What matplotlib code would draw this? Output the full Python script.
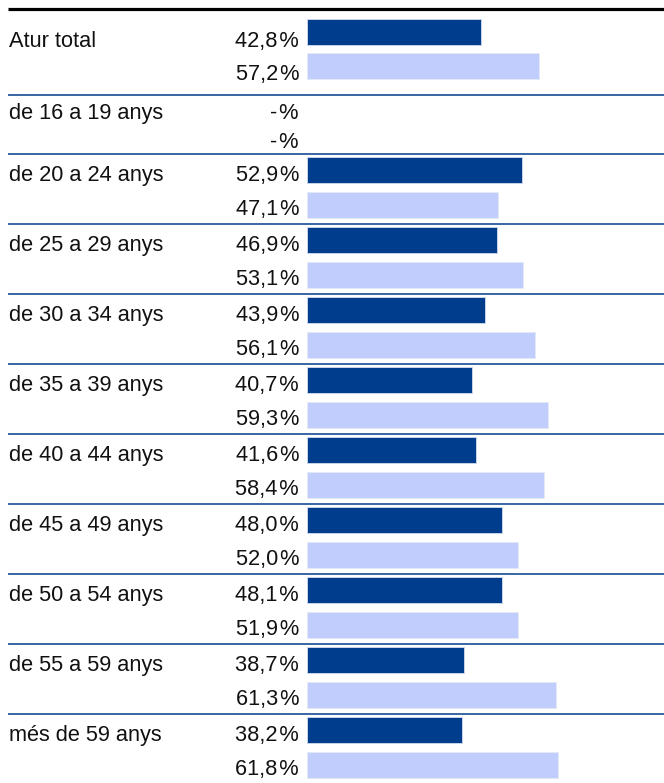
import matplotlib
matplotlib.use("Agg")
import matplotlib.pyplot as plt

# dades: atur per sexe i grup d'edat (%)
grups = ['Atur total', 'de 16 a 19 anys', 'de 20 a 24 anys', 'de 25 a 29 anys',
         'de 30 a 34 anys', 'de 35 a 39 anys', 'de 40 a 44 anys', 'de 45 a 49 anys',
         'de 50 a 54 anys', 'de 55 a 59 anys', 'més de 59 anys']
homes = [42.8, None, 52.9, 46.9, 43.9, 40.7, 41.6, 48.0, 48.1, 38.7, 38.2]
dones = [57.2, None, 47.1, 53.1, 56.1, 59.3, 58.4, 52.0, 51.9, 61.3, 61.8]

C_FOSC = '#003d8c'
C_CLAR = '#c1cefd'

plt.rcParams['font.family'] = ['Liberation Sans', 'DejaVu Sans']

W, H = 664, 783
fig = plt.figure(figsize=(W / 100, H / 100), dpi=100)
ax = fig.add_axes([0, 0, 1, 1])

# escala: 0% a x=307 px, 4.06 px per punt percentual
x0_px, px_per = 307, 4.06
ax.set_xlim(-x0_px / px_per, (W - x0_px) / px_per)
ax.set_ylim(H, 0)
ax.axis('off')

def fmt(v):
    return '-\u200a%' if v is None else f"{v:.1f}".replace('.', ',') + '\u200a%'

x_left = (8 - x0_px) / px_per
x_lab = (9 - x0_px) / px_per
x_pct = (299 - x0_px) / px_per
FS = 15.7

# línia superior
top = 9
ax.plot([x_left, ax.get_xlim()[1]], [top, top], color='black', lw=2.3, solid_capstyle='butt')

y = top
for i, g in enumerate(grups):
    te_dades = homes[i] is not None
    if i == 0:
        alt, bar_top, base = 86, 10, (38, 71)
    elif te_dades:
        alt, bar_top, base = 70, 3, (27.5, 61)
    else:
        alt, bar_top, base = 59, 3, (24, 53)

    if te_dades:
        b1 = y + bar_top
        b2 = b1 + 35 if i > 0 else b1 + 34
        ax.barh(b1, homes[i], height=25.5, left=0, align='edge', color=C_FOSC,
                edgecolor='#c9d3ea', linewidth=0.7)
        ax.barh(b2, dones[i], height=25.5, left=0, align='edge', color=C_CLAR,
                edgecolor='#e4e9f5', linewidth=0.7)

    ax.text(x_lab, y + base[0], g, fontsize=FS, va='baseline', ha='left', color='#111111')
    ax.text(x_pct, y + base[0], fmt(homes[i]), fontsize=FS, va='baseline', ha='right',
            color='#111111')
    ax.text(x_pct, y + base[1], fmt(dones[i]), fontsize=FS, va='baseline', ha='right',
            color='#111111')

    y += alt
    if i < len(grups) - 1:
        ax.plot([x_left, ax.get_xlim()[1]], [y, y], color=C_FOSC, lw=1.1,
                solid_capstyle='butt')

fig.savefig('out.png', dpi=100)
